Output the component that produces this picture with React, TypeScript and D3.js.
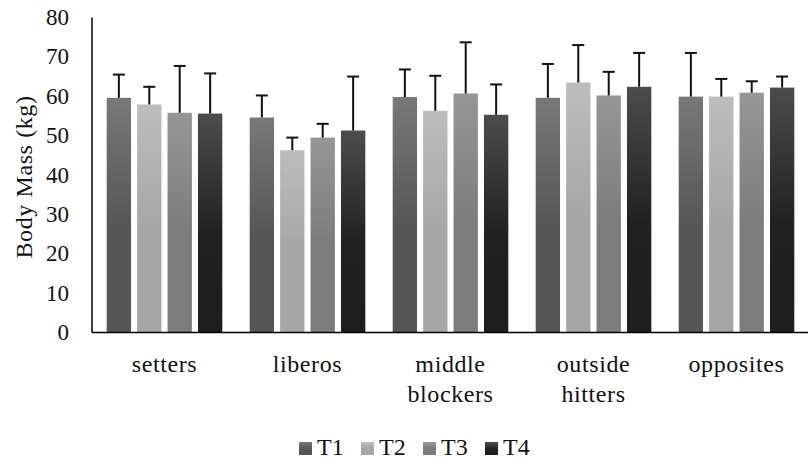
import React, { useEffect, useRef } from "react";
import * as d3 from "d3";

const categories = [["setters"], ["liberos"], ["middle", "blockers"], ["outside", "hitters"], ["opposites"]];
const series = ["T1", "T2", "T3", "T4"];
const t1 = [59.6, 54.6, 59.8, 59.6, 59.9];
const t2 = [57.9, 46.3, 56.3, 63.5, 59.9];
const t3 = [55.8, 49.5, 60.7, 60.2, 60.9];
const t4 = [55.6, 51.3, 55.3, 62.4, 62.2];
const t1Err = [5.9, 5.6, 7.0, 8.6, 11.1];
const t2Err = [4.5, 3.2, 8.9, 9.5, 4.5];
const t3Err = [11.9, 3.5, 13.0, 6.0, 2.9];
const t4Err = [10.2, 13.7, 7.7, 8.6, 2.8];
const yTicks = [0, 10, 20, 30, 40, 50, 60, 70, 80];

const gradients = [
  ["#787878", "#565656", "#565656"],
  ["#bdbdbd", "#a6a6a6", "#a6a6a6"],
  ["#969696", "#7c7c7c", "#7c7c7c"],
  ["#4c4c4c", "#212121", "#1e1e1e"]
];

const W = 808;
const H = 461;
const margin = { left: 92, right: 0, top: 17.5, bottom: 128.5 };
const font = "'Liberation Serif', serif";

const App = () => {
  const svgRef = useRef<SVGSVGElement>(null);

  useEffect(() => {
    const svg = d3.select(svgRef.current);
    svg.selectAll("*").remove();

    const values = [t1, t2, t3, t4];
    const errs = [t1Err, t2Err, t3Err, t4Err];

    const defs = svg.append("defs");
    gradients.forEach((g, i) => {
      const lg = defs
        .append("linearGradient")
        .attr("id", "grad" + i)
        .attr("x1", 0)
        .attr("y1", 0)
        .attr("x2", 0)
        .attr("y2", 1);
      lg.append("stop").attr("offset", "0%").attr("stop-color", g[0]);
      lg.append("stop").attr("offset", "55%").attr("stop-color", g[1]);
      lg.append("stop").attr("offset", "100%").attr("stop-color", g[2]);
    });

    const x0 = d3
      .scaleBand()
      .domain(categories.map((c, i) => String(i)))
      .range([margin.left + 1, W - margin.right])
      .paddingInner(0)
      .paddingOuter(0);

    const x1 = d3
      .scaleBand()
      .domain(series)
      .range([0, x0.bandwidth()])
      .paddingInner(0.2)
      .paddingOuter(0.45);

    const y = d3
      .scaleLinear()
      .domain([0, 80])
      .range([H - margin.bottom, margin.top]);

    // y tick labels
    svg
      .append("g")
      .selectAll("text")
      .data(yTicks)
      .join("text")
      .attr("x", margin.left - 23)
      .attr("y", d => y(d))
      .attr("dy", "0.33em")
      .attr("text-anchor", "end")
      .attr("font-family", font)
      .attr("font-size", 23)
      .attr("fill", "#111")
      .text(d => d);

    svg
      .append("text")
      .attr("transform", `translate(32,${(y(0) + y(80)) / 2 + 2}) rotate(-90)`)
      .attr("text-anchor", "middle")
      .attr("font-family", font)
      .attr("font-size", 24)
      .attr("letter-spacing", 0.6)
      .attr("fill", "#111")
      .text("Body Mass (kg)");

    // bars
    series.forEach((s, si) => {
      const g = svg.append("g");
      g.selectAll("rect")
        .data(values[si])
        .join("rect")
        .attr("x", (d, i) => x0(String(i))! + x1(s)!)
        .attr("y", d => y(d))
        .attr("width", x1.bandwidth())
        .attr("height", d => y(0) - y(d))
        .attr("fill", `url(#grad${si})`);

      const eg = svg.append("g").attr("stroke", "#111").attr("stroke-width", 2);
      values[si].forEach((v, i) => {
        const cx = x0(String(i))! + x1(s)! + x1.bandwidth() / 2;
        const top = y(v + errs[si][i]);
        eg.append("line").attr("x1", cx).attr("x2", cx).attr("y1", y(v)).attr("y2", top);
        eg.append("line").attr("x1", cx - 6).attr("x2", cx + 6).attr("y1", top).attr("y2", top);
      });
    });

    // axes lines
    svg
      .append("line")
      .attr("x1", margin.left)
      .attr("x2", margin.left)
      .attr("y1", y(80))
      .attr("y2", y(0))
      .attr("stroke", "#000")
      .attr("stroke-width", 1.5);
    svg
      .append("line")
      .attr("x1", margin.left)
      .attr("x2", W)
      .attr("y1", y(0))
      .attr("y2", y(0))
      .attr("stroke", "#000")
      .attr("stroke-width", 1.5);

    // category labels
    categories.forEach((c, i) => {
      const cx = x0(String(i))! + x0.bandwidth() / 2;
      const t = svg
        .append("text")
        .attr("x", cx)
        .attr("y", y(0) + 39)
        .attr("text-anchor", "middle")
        .attr("font-family", font)
        .attr("font-size", 24)
        .attr("letter-spacing", 0.6)
        .attr("fill", "#111");
      c.forEach((line, li) => {
        t.append("tspan")
          .attr("x", cx)
          .attr("dy", li === 0 ? 0 : 30)
          .text(line);
      });
    });

    // legend
    const legendX = d3.scalePoint().domain(series).range([299, 485]);
    const lg = svg.append("g");
    series.forEach((s, si) => {
      lg.append("rect")
        .attr("x", legendX(s)!)
        .attr("y", 442)
        .attr("width", 13)
        .attr("height", 13)
        .attr("fill", `url(#grad${si})`);
      lg.append("text")
        .attr("x", legendX(s)! + 18)
        .attr("y", 455)
        .attr("font-family", font)
        .attr("font-size", 24)
        .attr("fill", "#111")
        .text(s);
    });
  }, []);

  return (
    <svg
      ref={svgRef}
      width={W}
      height={H}
      style={{ position: "absolute", left: 0, top: 0, background: "#fff" }}
    />
  );
};

export default App;
